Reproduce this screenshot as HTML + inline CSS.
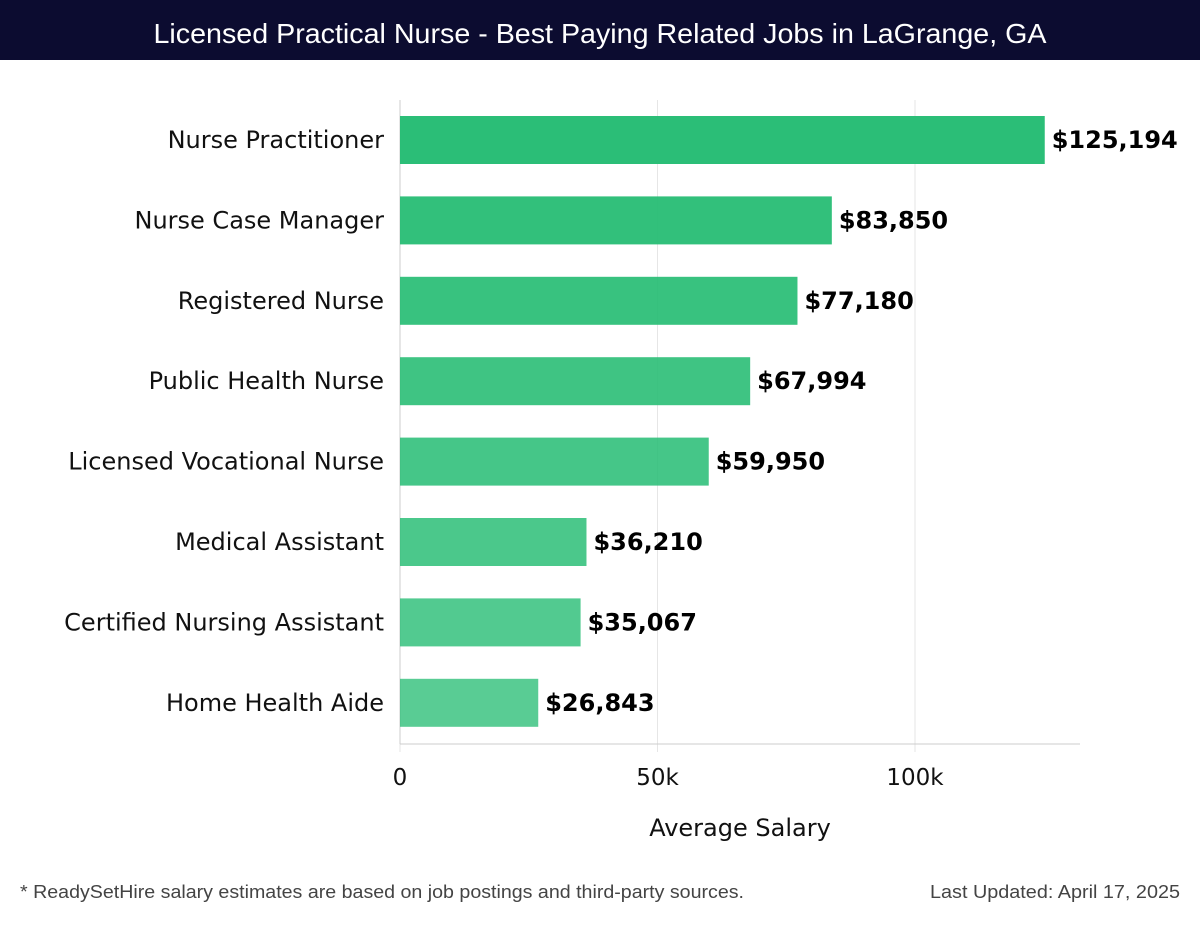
<!DOCTYPE html>
<html><head><meta charset="utf-8"><style>
body{margin:0;width:1200px;height:920px;background:#fff;font-family:"Liberation Sans",sans-serif;overflow:hidden}
</style></head><body>
<svg width="1200" height="920" xmlns="http://www.w3.org/2000/svg" id="chart">
<rect x="0" y="0" width="1200" height="60" fill="#0c0c30"/>
<text x="600" y="43" text-anchor="middle" fill="#fff" font-size="28" textLength="893" lengthAdjust="spacingAndGlyphs">Licensed Practical Nurse - Best Paying Related Jobs in LaGrange, GA</text>
<g id="grid"></g>
<line x1="400" y1="100" x2="400" y2="744" stroke="#ccc"/>
<line x1="400" y1="744" x2="1080" y2="744" stroke="#ccc"/>
<g id="bars"></g>
<text x="740" y="836" text-anchor="middle" font-size="24" fill="#111" font-family="DejaVu Sans, sans-serif">Average Salary</text>
<text x="20" y="898" font-size="18" fill="#444" textLength="724" lengthAdjust="spacingAndGlyphs">* ReadySetHire salary estimates are based on job postings and third-party sources.</text>
<text x="1180" y="898" text-anchor="end" font-size="18" fill="#444" textLength="250" lengthAdjust="spacingAndGlyphs">Last Updated: April 17, 2025</text>
</svg>
<script>
const categories=["Nurse Practitioner","Nurse Case Manager","Registered Nurse","Public Health Nurse","Licensed Vocational Nurse","Medical Assistant","Certified Nursing Assistant","Home Health Aide"];
const salaries=[125194,83850,77180,67994,59950,36210,35067,26843];
const tickValues=[0,50000,100000];
const tickLabels=["0","50k","100k"];
const NS="http://www.w3.org/2000/svg";
const F="DejaVu Sans, sans-serif";
const x=v=>400+v*515/100000;
const y=i=>140+i*80.4;
function mk(tag,attrs,parent){const e=document.createElementNS(NS,tag);for(const k in attrs)e.setAttribute(k,attrs[k]);parent.appendChild(e);return e;}
const grid=document.getElementById('grid'),bars=document.getElementById('bars');
tickValues.forEach((t,i)=>{
 const l=mk('line',{x1:x(t),x2:x(t),y1:100,y2:752,stroke:'#e6e6e6'},grid);
 
 
 const tx=mk('text',{x:x(t),y:785,'text-anchor':'middle','font-size':23,fill:'#111','font-family':F},grid);
 tx.textContent=tickLabels[i];
 
 
});
categories.forEach((c,i)=>{
 const op=0.98-i*0.03;
 const r=mk('rect',{x:400,y:y(i)-24,width:x(salaries[i])-400,height:48,fill:'#27bd74','fill-opacity':op},bars);
 
 
 const lb=mk('text',{x:384,y:y(i)+8,'text-anchor':'end','font-size':24,fill:'#111','font-family':F},bars);
 lb.textContent=c;
 
 
 const v=mk('text',{x:x(salaries[i])+7,y:y(i)+8,'font-size':24,'font-weight':'bold',fill:'#000','font-family':F},bars);
 v.textContent='$'+salaries[i].toLocaleString('en-US');
 
 
});
</script>
</body></html>
